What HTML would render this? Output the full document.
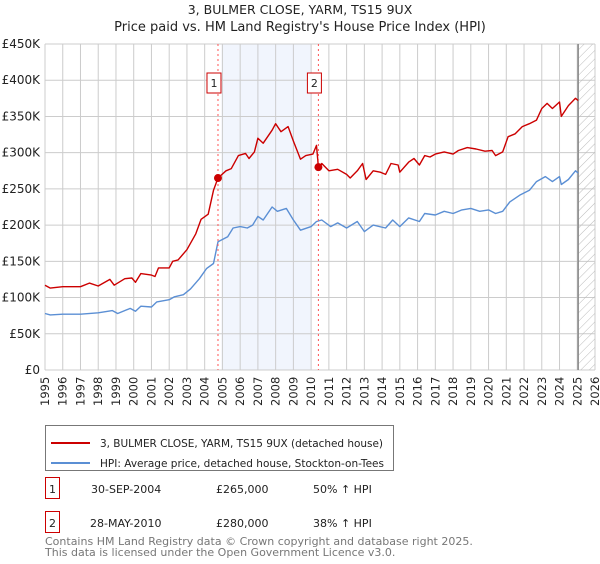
<!DOCTYPE html>
<html><head><meta charset="utf-8"><style>
body{margin:0;background:#fff;width:600px;height:560px;overflow:hidden;font-family:"DejaVu Sans","Liberation Sans",sans-serif;}
svg text{font-family:"DejaVu Sans","Liberation Sans",sans-serif;}
</style></head><body>
<svg id="chart" width="600" height="560" xmlns="http://www.w3.org/2000/svg">
<defs><pattern id="hatch" width="6" height="6" patternUnits="userSpaceOnUse" patternTransform="rotate(45)"><line x1="0" y1="0" x2="0" y2="6" stroke="#bbb" stroke-width="1"/></pattern></defs>
<text x="300" y="14" text-anchor="middle" font-size="12.5" fill="#222">3, BULMER CLOSE, YARM, TS15 9UX</text>
<text x="300" y="31" text-anchor="middle" font-size="13" fill="#222">Price paid vs. HM Land Registry's House Price Index (HPI)</text>
<g id="grid"></g><g id="marks"></g>
<rect x="45.5" y="425.5" width="348" height="45" fill="none" stroke="#777"/>
<line x1="51" y1="443" x2="90" y2="443" stroke="#cc0000" stroke-width="2"/>
<text x="100" y="447" font-size="10.5" textLength="283" fill="#222">3, BULMER CLOSE, YARM, TS15 9UX (detached house)</text>
<line x1="51" y1="463" x2="90" y2="463" stroke="#5b8fd4" stroke-width="2"/>
<text x="100" y="467" font-size="10.5" textLength="284" fill="#222">HPI: Average price, detached house, Stockton-on-Tees</text>
<g>
<rect x="45.5" y="477.5" width="14" height="21" fill="none" stroke="#cc0000"/>
<text x="52.5" y="493" text-anchor="middle" font-size="11" fill="#222">1</text>
<text x="91" y="493" font-size="11" fill="#222">30-SEP-2004</text>
<text x="216" y="493" font-size="11" fill="#222">£265,000</text>
<text x="313" y="493" font-size="11" fill="#222">50% ↑ HPI</text></g>
<g>
<rect x="45.5" y="511.5" width="14" height="21" fill="none" stroke="#cc0000"/>
<text x="52.5" y="527" text-anchor="middle" font-size="11" fill="#222">2</text>
<text x="90" y="527" font-size="11" fill="#222">28-MAY-2010</text>
<text x="216" y="527" font-size="11" fill="#222">£280,000</text>
<text x="313" y="527" font-size="11" fill="#222">38% ↑ HPI</text></g>
<text x="45" y="545" font-size="11" fill="#777">Contains HM Land Registry data © Crown copyright and database right 2025.</text>
<text x="45" y="556" font-size="11" fill="#777">This data is licensed under the Open Government Licence v3.0.</text>
</svg>
<script>
const yearTicks=[1995,1996,1997,1998,1999,2000,2001,2002,2003,2004,2005,2006,2007,2008,2009,2010,2011,2012,2013,2014,2015,2016,2017,2018,2019,2020,2021,2022,2023,2024,2025,2026];
const priceTicks=[0,50000,100000,150000,200000,250000,300000,350000,400000,450000];
const priceLabels=["£0","£50K","£100K","£150K","£200K","£250K","£300K","£350K","£400K","£450K"];
const redT=[1995.0,1995.3,1996,1997,1997.5,1998,1998.66,1998.9,1999.5,1999.9,2000.1,2000.4,2001,2001.2,2001.4,2002,2002.2,2002.5,2003,2003.5,2003.8,2004.2,2004.5,2004.75,2005.2,2005.5,2005.9,2006.3,2006.5,2006.8,2007.0,2007.3,2007.8,2008.0,2008.3,2008.7,2009.0,2009.4,2009.7,2010.1,2010.3,2010.41,2010.6,2011,2011.5,2012,2012.2,2012.6,2012.9,2013.1,2013.5,2013.9,2014.2,2014.5,2014.9,2015.0,2015.5,2015.8,2016.1,2016.4,2016.7,2017,2017.5,2018,2018.3,2018.8,2019.3,2019.8,2020.2,2020.4,2020.8,2021.1,2021.5,2021.9,2022.3,2022.7,2023.0,2023.3,2023.6,2024.0,2024.1,2024.5,2024.9,2025.05];
const redV=[117,113,115,115,120,116,125,117,126,127,121,133,131,129,141,141,150,152,166,188,208,215,248,265,275,278,296,299,292,301,320,313,331,340,329,336,316,291,296,298,310,280,285,275,277,270,265,275,285,263,275,273,270,285,283,273,287,292,283,296,294,298,301,298,303,307,305,302,303,296,301,322,326,336,340,345,361,368,361,370,350,365,375,372];
const hpiT=[1995,1995.3,1996,1997,1998,1998.8,1999.1,1999.8,2000.1,2000.4,2001,2001.3,2002,2002.3,2002.8,2003.2,2003.7,2004.1,2004.5,2004.75,2005.3,2005.6,2006.0,2006.4,2006.7,2007.0,2007.3,2007.8,2008.1,2008.6,2009.0,2009.4,2010.0,2010.3,2010.6,2011.1,2011.5,2012.0,2012.6,2013.0,2013.5,2014.2,2014.6,2015.0,2015.5,2016.1,2016.4,2017,2017.5,2018,2018.5,2019,2019.5,2020.0,2020.4,2020.8,2021.2,2021.8,2022.3,2022.7,2023.2,2023.6,2024.0,2024.1,2024.5,2024.9,2025.05];
const hpiV=[78,76,77,77,79,82,78,85,81,88,87,94,97,101,104,112,126,140,147,177,184,196,198,196,200,212,207,225,219,223,207,193,198,205,207,198,203,196,205,191,200,196,207,198,210,205,216,214,219,216,221,223,219,221,216,219,232,242,248,260,267,260,267,256,263,275,272];
const saleT=[2004.75,2010.41];
const saleV=[265,280];
const shadeT=[2004.95,2010.0];
const dataEnd=2025.05;

const L=45,R=595,T=44,B=370;
const xs=t=>L+(t-1995)/(2026-1995)*(R-L);
const ys=v=>B-v/450000*(B-T);
const NS="http://www.w3.org/2000/svg";
const grid=document.getElementById('grid'),marks=document.getElementById('marks');
function mk(tag,attrs,parent){const e=document.createElementNS(NS,tag);for(const k in attrs)e.setAttribute(k,attrs[k]);parent.appendChild(e);return e;}

const sh=mk('rect',{x:xs(shadeT[0]),y:T,width:xs(shadeT[1])-xs(shadeT[0]),height:B-T,fill:'#eef3fc',opacity:0.8},grid);


yearTicks.forEach(y=>{
  const l=mk('line',{x1:xs(y),x2:xs(y),y1:T,y2:B,stroke:'#cccccc'},grid);
  
  
  const tx=mk('text',{transform:`translate(${xs(y)+4},${B+36}) rotate(-90)`,'font-size':'11.5',fill:'#222'},grid);
  tx.textContent=y;
  
  
});
priceTicks.forEach((p,i)=>{
  const l=mk('line',{x1:L,x2:R,y1:ys(p),y2:ys(p),stroke:'#cccccc'},grid);
  
  
  const tx=mk('text',{x:40,y:ys(p)+4,'text-anchor':'end','font-size':'12',fill:'#222'},grid);
  tx.textContent=priceLabels[i];
  
  
});
const hz=mk('rect',{x:xs(dataEnd),y:T,width:R-xs(dataEnd),height:B-T,fill:'url(#hatch)'},grid);


const el=mk('line',{x1:xs(dataEnd),x2:xs(dataEnd),y1:T,y2:B,stroke:'#888','stroke-width':1.5},grid);



function path(ts,vs,color,name){
  const d=ts.map((t,i)=>(i?'L':'M')+xs(t).toFixed(1)+','+ys(vs[i]*1000).toFixed(1)).join('');
  const p=mk('path',{d:d,fill:'none',stroke:color,'stroke-width':1.4,'stroke-linejoin':'round'},marks);
  
  
}
path(hpiT,hpiV,'#5b8fd4','hpi-line');
path(redT,redV,'#cc0000','property-price-line');
saleT.forEach((t,i)=>{
  const l=mk('line',{x1:xs(t),x2:xs(t),y1:T,y2:B,stroke:'#ff5555','stroke-dasharray':'2,3'},marks);
  
  
  const c=mk('circle',{cx:xs(t),cy:ys(saleV[i]*1000),r:4,fill:'#cc0000'},marks);
  
  
  const bx=mk('rect',{x:xs(t)-11,y:73,width:14,height:20,fill:'#fff',stroke:'#cc0000'},marks);
  
  
  const tx=mk('text',{x:xs(t)-4,y:87,'text-anchor':'middle','font-size':'11',fill:'#222'},marks);
  tx.textContent=String(i+1);
  
  
});
</script>
</body></html>
